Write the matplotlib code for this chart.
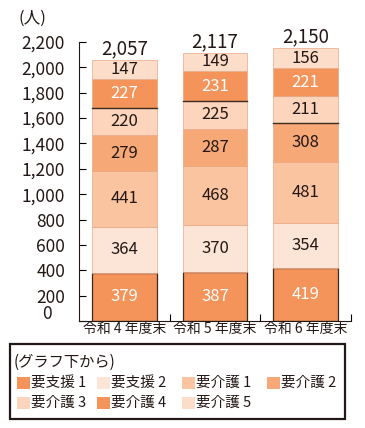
import matplotlib
matplotlib.use('Agg')
import matplotlib.pyplot as plt
from matplotlib.patches import Rectangle
import numpy as np

plt.rcParams['font.family'] = ['Noto Sans CJK JP', 'DejaVu Sans']

# データ
years = ['令和 4 年度末', '令和 5 年度末', '令和 6 年度末']
levels = ['要支援 1', '要支援 2', '要介護 1', '要介護 2', '要介護 3', '要介護 4', '要介護 5']
values = [
    [379, 387, 419],   # 要支援1
    [364, 370, 354],   # 要支援2
    [441, 468, 481],   # 要介護1
    [279, 287, 308],   # 要介護2
    [220, 225, 211],   # 要介護3
    [227, 231, 221],   # 要介護4
    [147, 149, 156],   # 要介護5
]
totals = [2057, 2117, 2150]
colors = ['#F4935A', '#FCE5D6', '#FAC4A0', '#F6A877', '#FCD5BC', '#F4935A', '#FCDDC9']
text_colors = ['white', '#231815', '#231815', '#231815', '#231815', 'white', '#231815']
# 濃い線が入る区分（その区分の上端）
dark_line_after = [4, 4, 3]

W, H = 365, 428
fig = plt.figure(figsize=(W / 100, H / 100), dpi=100)
ax = fig.add_axes([79 / W, 1 - 321 / H, 272 / W, 279 / H])

x = np.arange(len(years))
width = 0.71
bottom = np.zeros(len(years))
dark = '#3A2A20'
txt = '#231815'
for i, lev in enumerate(levels):
    vals = np.array(values[i])
    ec = dark if i == 0 else '#E9A784'
    lw = 0.9 if i == 0 else 0.5
    ax.bar(x, vals, width, bottom=bottom, color=colors[i], edgecolor=ec, linewidth=lw, zorder=2)
    for j, v in enumerate(vals):
        ax.text(x[j], bottom[j] + v / 2, f'{v}', ha='center', va='center',
                fontsize=12, color=text_colors[i], zorder=4)
    bottom += vals

# 濃い区切り線
for j in range(len(years)):
    level_top = sum(values[k][j] for k in range(dark_line_after[j] + 1))
    ax.plot([x[j] - width / 2, x[j] + width / 2], [level_top, level_top],
            color=dark, linewidth=1.0, zorder=3)

# 合計
for j, t in enumerate(totals):
    ax.text(x[j], t + 5, f'{t:,}', ha='center', va='bottom', fontsize=13.5,
            color=txt, clip_on=False)

ax.set_xlim(-0.5, 2.5)
ax.set_ylim(0, 2200)
ax.set_yticks(np.arange(0, 2201, 200))
ylabels = [f'{v:,}' for v in range(0, 2201, 200)]
ylabels[0] = ''
ax.set_yticklabels(ylabels, fontsize=12.5, color=txt)
# "0" は少し上に置かれている
fig.text(47 / W, 1 - 314 / H, '0', fontsize=12.5, color=txt, ha='center', va='center')

ax.tick_params(axis='y', direction='in', length=5, width=0.8, pad=10)
ax.set_xticks(x)
ax.set_xticklabels(years, fontsize=10, color=txt)
ax.tick_params(axis='x', length=0, pad=1)
ax.set_xticks([0.5, 1.5, 2.5], minor=True)
ax.tick_params(axis='x', which='minor', direction='in', length=5, width=0.8)

for s in ['top', 'right']:
    ax.spines[s].set_visible(False)
for s in ['left', 'bottom']:
    ax.spines[s].set_linewidth(0.8)
    ax.spines[s].set_color(txt)

fig.text(19 / W, 1 - 18 / H, '(人)', fontsize=12, color=txt, va='center')

# 凡例（手描き）
fig.patches.append(Rectangle((10 / W, 1 - 419 / H), 335 / W, 75 / H, transform=fig.transFigure,
                             fill=False, edgecolor=txt, linewidth=1.6))
fig.text(14 / W, 1 - 362 / H, '(グラフ下から)', fontsize=11, color=txt, va='center')
pos = [(17, 383), (97, 383), (182, 383), (267, 383), (17, 403), (97, 403), (182, 403)]
for i, lev in enumerate(levels):
    px, py = pos[i]
    fig.patches.append(Rectangle((px / W, 1 - (py + 6) / H), 13 / W, 12 / H,
                                 transform=fig.transFigure, facecolor=colors[i], edgecolor='none'))
    fig.text((px + 14) / W, 1 - py / H, lev, fontsize=10.5, color=txt, va='center')

plt.savefig('out.png', dpi=100)
